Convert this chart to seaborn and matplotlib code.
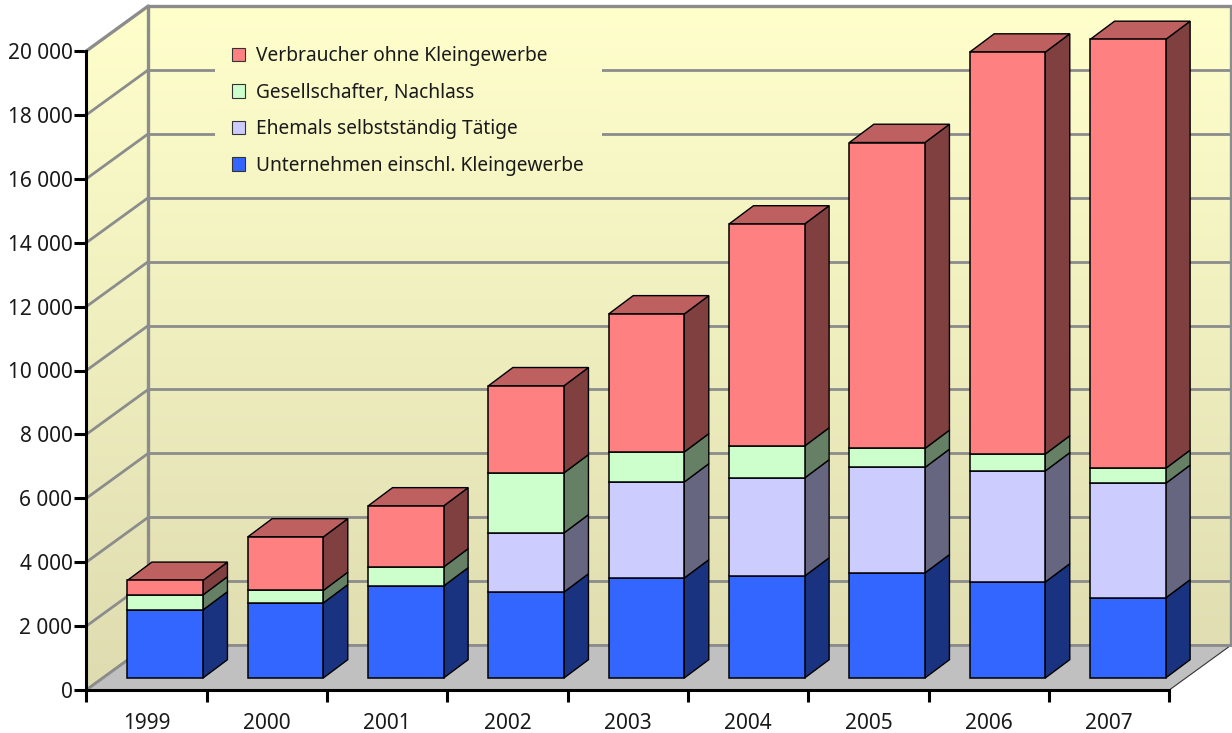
import numpy as np
import pandas as pd
import seaborn as sns
import matplotlib.pyplot as plt
import matplotlib.transforms as mtransforms
from matplotlib.patches import Patch, Polygon, Rectangle

# Data
years = ["1999", "2000", "2001", "2002", "2003", "2004", "2005", "2006", "2007"]
unternehmen = [2130, 2350, 2880, 2690, 3130, 3190, 3290, 3005, 2505]
ehemals = [0, 0, 0, 1850, 3005, 3070, 3300, 3475, 3585]
gesellschafter = [470, 390, 595, 1880, 940, 1000, 595, 530, 470]
verbraucher = [455, 1675, 1910, 2725, 4320, 6950, 9575, 12580, 13425]

series_names = ["Unternehmen einschl. Kleingewerbe", "Ehemals selbstständig Tätige",
                "Gesellschafter, Nachlass", "Verbraucher ohne Kleingewerbe"]
series_values = [unternehmen, ehemals, gesellschafter, verbraucher]
front_colors = ["#3366FF", "#CCCCFF", "#CCFFCC", "#FF8080"]
side_colors = ["#1A3380", "#666680", "#668066", "#804040"]
top_color = "#BF6060"

y_ticks = list(range(0, 20001, 2000))
y_labels = [f"{v:,}".replace(",", " ") for v in y_ticks]

# 3D look, in pixels
wall_depth = (62, 45)
bar_shift = (18.7, 12)
bar_depth = (24.5, 18.3)
grid_color = "#8C8C8C"
text_color = "#1A1A1A"
identity = mtransforms.IdentityTransform()

sns.set_theme(style="white")
plt.rcParams["font.family"] = ["Noto Sans", "DejaVu Sans"]

fig = plt.figure(figsize=(12.32, 7.33), dpi=100)
ax = fig.add_axes([86.3 / 1232, 43 / 733, (1170 - 87) / 1232, (690 - 51) / 733])
ax.patch.set_alpha(0)

# front faces of the stacked bars
bottoms = np.zeros(len(years))
for name, values, color in zip(series_names, series_values, front_colors):
    df = pd.DataFrame({"year": years, "value": values})
    sns.barplot(data=df, x="year", y="value", color=color, saturation=1, width=0.628,
                bottom=bottoms, edgecolor="black", linewidth=1.1, ax=ax, zorder=6)
    bottoms = bottoms + np.array(values)

ax.set_xlim(-0.5, 8.5)
ax.set_ylim(0, 20000)
ax.set_autoscale_on(False)

shift = ax.transData + mtransforms.Affine2D().translate(*bar_shift)
for p in ax.patches:
    p.set_transform(shift)
    p.set_clip_on(False)


def px(x, v, off=(0, 0)):
    pos = ax.transData.transform((x, v))
    return (pos[0] + off[0], pos[1] + off[1])


def add_off(a, b):
    return (a[0] + b[0], a[1] + b[1])


left, right = -0.5, 8.5

# wall gradient, clipped to side wall + back wall
gradient = np.linspace(0, 1, 256)[:, None]
c_top = np.array([255, 255, 204]) / 255
c_bottom = np.array([222, 220, 176]) / 255
grad_img = (c_top + (c_bottom - c_top) * gradient[:, :, None])
top_y = px(left, 20000, wall_depth)[1]
bottom_y = px(left, 0)[1]
x0 = px(left, 0)[0]
x1 = px(right, 0, wall_depth)[0]
wall_outline = [px(left, 0), px(left, 0, wall_depth), px(right, 0, wall_depth),
                px(right, 20000, wall_depth), px(left, 20000, wall_depth), px(left, 20000)]
walls = ax.imshow(grad_img, extent=(x0, x1, bottom_y, top_y), aspect="auto",
                  transform=identity, zorder=0, interpolation="bilinear")
walls.set_clip_box(fig.bbox)
walls.set_clip_path(Polygon(wall_outline, transform=identity))

# grid on both walls
for v in y_ticks:
    lw = 2.4 if v == 20000 else 2.0
    ax.plot(*zip(px(left, v), px(left, v, wall_depth)), color=grid_color, lw=lw,
            transform=identity, clip_on=False, zorder=1, solid_capstyle="round")
    ax.plot(*zip(px(left, v, wall_depth), px(right, v, wall_depth)), color=grid_color, lw=lw,
            transform=identity, clip_on=False, zorder=1)
ax.plot(*zip(px(left, 0, wall_depth), px(left, 20000, wall_depth)), color=grid_color, lw=2.4,
        transform=identity, clip_on=False, zorder=1)
ax.plot(*zip(px(right, 0, wall_depth), px(right, 20000, wall_depth)), color=grid_color, lw=2.4,
        transform=identity, clip_on=False, zorder=1)

# floor
ax.add_patch(Polygon([px(left, 0), px(right, 0), px(right, 0, wall_depth), px(left, 0, wall_depth)],
                     closed=True, facecolor="#C0C0C0", edgecolor="none",
                     transform=identity, clip_on=False, zorder=2))
ax.plot(*zip(px(right, 0), px(right, 0, wall_depth)), color="#333333", lw=0.8,
        transform=identity, clip_on=False, zorder=3)
ax.plot(*zip(px(left, 0, wall_depth), px(right, 0, wall_depth)), color=grid_color, lw=2.0,
        transform=identity, clip_on=False, zorder=3)
ax.plot(*zip(px(left, 0), px(left, 0, wall_depth)), color=grid_color, lw=2.0,
        transform=identity, clip_on=False, zorder=3)

# side and top faces
half = 0.628 / 2
for i in range(len(years)):
    base = 0
    for values, color in zip(series_values, side_colors):
        v = values[i]
        if v > 0:
            a = px(i + half, base, bar_shift)
            b = px(i + half, base + v, bar_shift)
            ax.add_patch(Polygon([a, add_off(a, bar_depth), add_off(b, bar_depth), b], closed=True,
                                 facecolor=color, edgecolor="black", linewidth=1.0,
                                 transform=identity, clip_on=False, zorder=5))
        base += v
    a = px(i - half, base, bar_shift)
    b = px(i + half, base, bar_shift)
    ax.add_patch(Polygon([a, b, add_off(b, bar_depth), add_off(a, bar_depth)], closed=True,
                         facecolor=top_color, edgecolor="black", linewidth=1.0,
                         transform=identity, clip_on=False, zorder=5))

# axes
for side in ["top", "right"]:
    ax.spines[side].set_visible(False)
for side in ["left", "bottom"]:
    ax.spines[side].set_linewidth(2.2)
    ax.spines[side].set_color("black")
    ax.spines[side].set_zorder(7)
ax.set_xlabel("")
ax.set_ylabel("")
ax.set_yticks(y_ticks, y_labels)
ax.set_xticks(np.arange(len(years) + 1) - 0.5, [""] * (len(years) + 1))
ax.set_xticks(np.arange(len(years)), years, minor=True)
ax.tick_params(axis="both", which="major", length=8.5, width=2.2, color="black",
               left=True, bottom=True, labelsize=15, labelcolor=text_color, pad=1.5)
ax.tick_params(axis="x", which="minor", length=0, labelsize=15, labelcolor=text_color, pad=16.5)

# legend
handles = [Patch(facecolor=c, edgecolor="#333333", linewidth=0.8, label=n)
           for n, c in zip(series_names[::-1], front_colors[::-1])]
leg = ax.legend(handles=handles, loc="upper left", bbox_to_anchor=(0.1185, 1.034), frameon=False,
                fontsize=13.8, labelcolor=text_color, handlelength=0.71, handleheight=0.71,
                handletextpad=0.58, labelspacing=0.86, borderpad=0.89, borderaxespad=0)
leg.set_zorder(4)

# the legend sits on a patch of plain wall that hides the grid
fig.canvas.draw()
box = leg.get_window_extent()
wall_patch = ax.imshow(grad_img, extent=(x0, x1, bottom_y, top_y), aspect="auto",
                       transform=identity, zorder=1.5, interpolation="bilinear")
wall_patch.set_clip_box(fig.bbox)
wall_patch.set_clip_path(Rectangle((box.x0, box.y0), box.width, box.height, transform=identity))

fig.savefig("out.png", dpi=100)
